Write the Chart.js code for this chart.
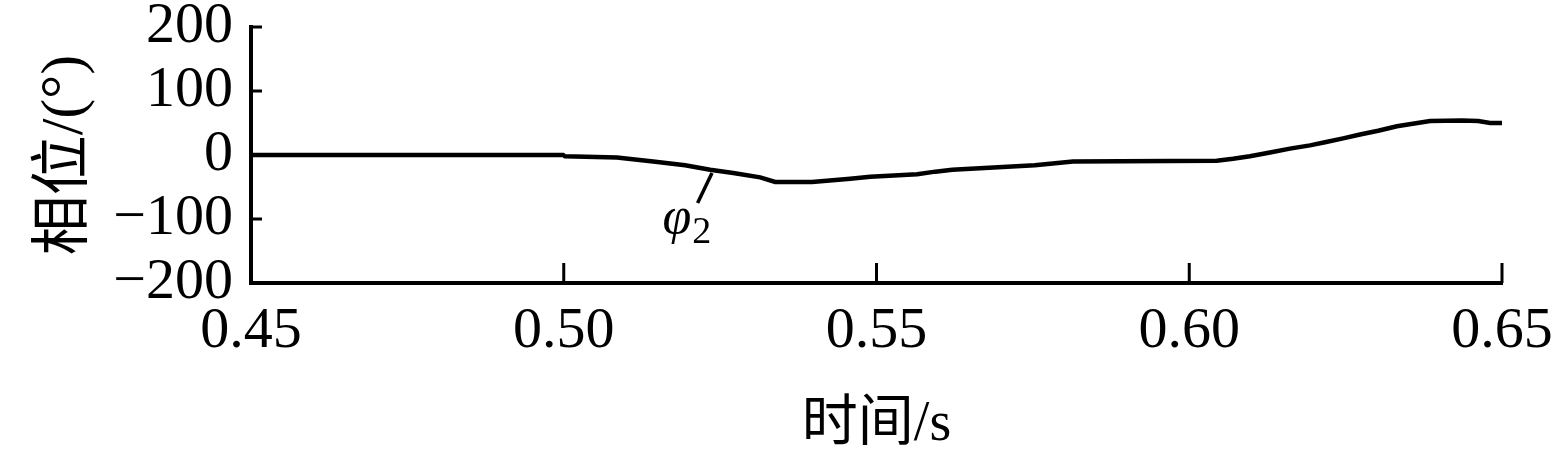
<!DOCTYPE html>
<html>
<head>
<meta charset="utf-8">
<script src="https://cdn.jsdelivr.net/npm/chart.js@4"></script>
<style>
    html, body { margin: 0; padding: 0; background: #ffffff; }
    #phaseChart { display: block; }
</style>
</head>
<body>
<canvas id="phaseChart" width="1552" height="459"></canvas>
<script>
    // phase φ2 (time in s, phase in degrees)
    const timeValues = [
        0.45, 0.4999, 0.5002, 0.5085, 0.5143, 0.5194, 0.5234, 0.5271, 0.5314, 0.5338,
        0.5397, 0.5458, 0.5490, 0.5565, 0.5594, 0.5621, 0.5753, 0.5814, 0.6044, 0.6070,
        0.6097, 0.6129, 0.6161, 0.6193, 0.6217, 0.6246, 0.6273, 0.6302, 0.6332, 0.6385,
        0.6436, 0.6462, 0.6481, 0.65,
    ];
    const phaseValues = [
        0, 0, -2, -4, -10, -16, -23, -28, -35, -42,
        -42, -37, -34, -30, -26, -23, -16, -10, -9, -6,
        -2, 4, 10, 15, 20, 26, 32, 38, 45, 53,
        54, 53, 50, 50,
    ];
    const xTickValues = [0.45, 0.50, 0.55, 0.60, 0.65];
    const yTickValues = [-200, -100, 0, 100, 200];
    const seriesLabel = 'φ2';

    const serifFont = '"Liberation Serif", "Noto Sans CJK SC", serif';

    const inwardTicks = {
        id: 'inwardTicks',
        afterDraw(chart) {
            const { ctx, scales: { x, y } } = chart;
            ctx.save();
            ctx.strokeStyle = '#000';
            ctx.lineWidth = 3;
            xTickValues.forEach((v) => {
                if (v === xTickValues[0]) {
                    return;
                }
                const px = x.getPixelForValue(v);
                ctx.beginPath();
                ctx.moveTo(px, y.bottom);
                ctx.lineTo(px, y.bottom - 20);
                ctx.stroke();
            });
            yTickValues.forEach((v) => {
                const py = y.getPixelForValue(v);
                ctx.beginPath();
                ctx.moveTo(x.left, py);
                ctx.lineTo(x.left + 11, py);
                ctx.stroke();
            });

            // label pointer for the curve
            ctx.lineWidth = 3.5;
            ctx.beginPath();
            ctx.moveTo(x.getPixelForValue(0.5237), y.getPixelForValue(-28));
            ctx.lineTo(x.getPixelForValue(0.5214), y.getPixelForValue(-75));
            ctx.stroke();
            ctx.fillStyle = '#000';
            ctx.textBaseline = 'alphabetic';
            ctx.textAlign = 'left';
            const lx = x.getPixelForValue(0.5158);
            const ly = y.getPixelForValue(-122);
            ctx.font = 'italic 52px ' + serifFont;
            ctx.fillText(seriesLabel[0], lx, ly);
            const w = ctx.measureText(seriesLabel[0]).width;
            ctx.font = '38px ' + serifFont;
            ctx.fillText(seriesLabel[1], lx + w + 1, ly + 10);
            ctx.restore();
        },
    };

    const points = timeValues.map((t, i) => ({ x: t, y: phaseValues[i] }));

    new Chart(document.getElementById('phaseChart').getContext('2d'), {
        type: 'line',
        data: {
            datasets: [
                {
                    label: seriesLabel,
                    data: points,
                    borderColor: '#000000',
                    borderWidth: 4.5,
                    pointRadius: 0,
                    tension: 0,
                    fill: false,
                },
            ],
        },
        options: {
            responsive: false,
            animation: false,
            layout: {
                padding: { top: 27, right: 50, left: 0, bottom: 0 },
            },
            plugins: {
                legend: { display: false },
                tooltip: { enabled: false },
            },
            scales: {
                x: {
                    type: 'linear',
                    min: 0.45,
                    max: 0.65,
                    afterBuildTicks: (scale) => {
                        scale.ticks = xTickValues.map((v) => ({ value: v }));
                    },
                    afterFit: (scale) => {
                        scale.height = 176;
                        scale.paddingLeft = 0;
                        scale.paddingRight = 0;
                    },
                    grid: { display: false, drawTicks: false },
                    border: { display: true, color: '#000', width: 4 },
                    ticks: {
                        color: '#000',
                        padding: 20,
                        maxRotation: 0,
                        autoSkip: false,
                        font: { family: serifFont, size: 58, lineHeight: 1.0 },
                        callback: (v) => Number(v).toFixed(2),
                    },
                    title: {
                        display: true,
                        text: '时间/s',
                        color: '#000',
                        padding: { top: 26, bottom: 0 },
                        font: { family: serifFont, size: 56 },
                    },
                },
                y: {
                    min: -200,
                    max: 200,
                    afterBuildTicks: (scale) => {
                        scale.ticks = yTickValues.map((v) => ({ value: v }));
                    },
                    afterFit: (scale) => {
                        scale.width = 251;
                        scale.paddingTop = 0;
                        scale.paddingBottom = 0;
                    },
                    grid: { display: false, drawTicks: false },
                    border: { display: true, color: '#000', width: 4 },
                    ticks: {
                        color: '#000',
                        padding: 18,
                        autoSkip: false,
                        font: { family: serifFont, size: 58, lineHeight: 1.0 },
                        callback: (v) => String(v).replace('-', '\u2212'),
                    },
                    title: {
                        display: true,
                        text: '相位/(°)',
                        color: '#000',
                        padding: { top: 30, bottom: 0 },
                        font: { family: serifFont, size: 60 },
                    },
                },
            },
        },
        plugins: [inwardTicks],
    });
</script>
</body>
</html>
